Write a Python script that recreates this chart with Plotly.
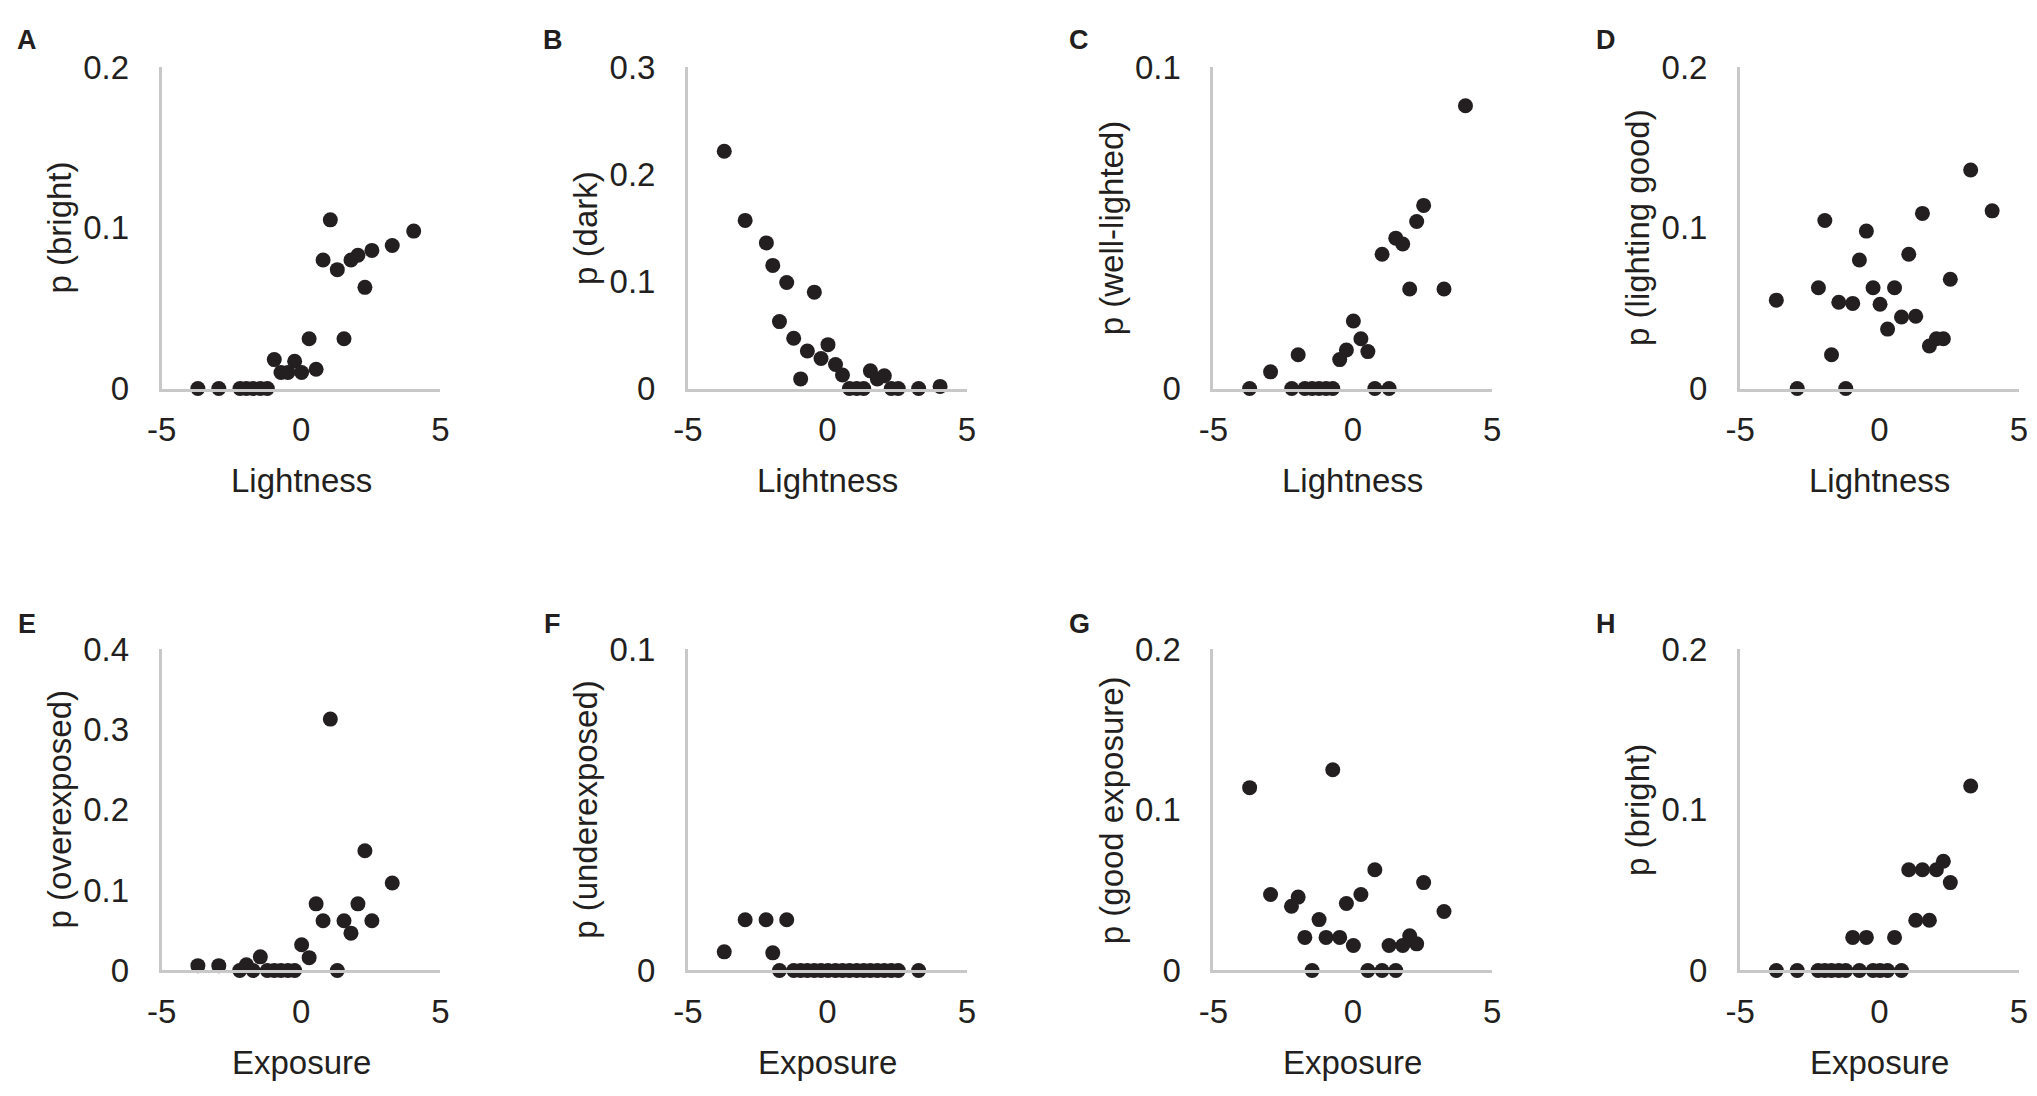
import plotly.graph_objects as go

# ---------------- data ----------------
lightness = [-3.70, -2.95, -2.19, -1.96, -1.72, -1.46, -1.21, -0.96, -0.72, -0.47, -0.23, 0.02,
             0.29, 0.54, 0.79, 1.05, 1.30, 1.54, 1.79, 2.04, 2.29, 2.54, 3.27, 4.04]
p_bright_l = [0, 0, 0, 0, 0, 0, 0, 0.018, 0.010, 0.010, 0.017, 0.010,
              0.031, 0.012, 0.080, 0.105, 0.074, 0.031, 0.080, 0.083, 0.063, 0.086, 0.089, 0.098]
p_dark = [0.2215, 0.157, 0.136, 0.115, 0.0625, 0.099, 0.047, 0.009, 0.035, 0.090, 0.028, 0.041,
          0.0225, 0.0126, 0, 0, 0, 0.0165, 0.009, 0.012, 0, 0, 0, 0.002]
p_well_lighted = [0, 0.0052, 0, 0.0105, 0, 0, 0, 0, 0, 0.009, 0.012, 0.021,
                  0.0155, 0.0115, 0, 0.0418, 0, 0.0468, 0.045, 0.031, 0.052, 0.057, 0.031, 0.088]
p_lighting_good = [0.055, 0, 0.0627, 0.1046, 0.021, 0.0537, 0, 0.053, 0.080, 0.098, 0.0627, 0.0525,
                   0.037, 0.0627, 0.0445, 0.0836, 0.045, 0.109, 0.0265, 0.031, 0.031, 0.068, 0.136, 0.1106]

exposure = [-3.70, -2.95, -2.20, -1.96, -1.72, -1.46, -1.21, -0.96, -0.72, -0.47, -0.23, 0.02,
            0.29, 0.54, 0.79, 1.05, 1.30, 1.54, 1.79, 2.04, 2.29, 2.54, 3.27]
p_overexposed = [0.006, 0.006, 0, 0.007, 0, 0.017, 0, 0, 0, 0, 0, 0.032,
                 0.016, 0.083, 0.062, 0.313, 0, 0.062, 0.0465, 0.083, 0.149, 0.062, 0.109]
p_underexposed = [0.0058, 0.0158, 0.0158, 0.0055, 0, 0.0158, 0, 0, 0, 0, 0, 0,
                  0, 0, 0, 0, 0, 0, 0, 0, 0, 0, 0]
p_good_exposure = [0.1138, 0.0473, 0.040, 0.0457, 0.0206, 0, 0.0317, 0.0206, 0.125, 0.0206, 0.0417, 0.0156,
                   0.0473, 0, 0.0627, 0, 0.0156, 0, 0.0156, 0.0216, 0.0166, 0.0547, 0.0367]
p_bright_e = [0, 0, 0, 0, 0, 0, 0, 0.0206, 0, 0.0206, 0, 0,
              0, 0.0206, 0, 0.0627, 0.0313, 0.0627, 0.0313, 0.0627, 0.068, 0.0547, 0.1148]

panel_letters = ["A", "B", "C", "D", "E", "F", "G", "H"]
x_titles = ["Lightness"] * 4 + ["Exposure"] * 4
y_titles = ["p (bright)", "p (dark)", "p (well-lighted)", "p (lighting good)",
            "p (overexposed)", "p (underexposed)", "p (good exposure)", "p (bright)"]
y_max = [0.2, 0.3, 0.1, 0.2, 0.4, 0.1, 0.2, 0.2]
x_ticks = [-5, 0, 5]
panels_x = [lightness] * 4 + [exposure] * 4
panels_y = [p_bright_l, p_dark, p_well_lighted, p_lighting_good,
            p_overexposed, p_underexposed, p_good_exposure, p_bright_e]

# ---------------- layout geometry (page pixels) ----------------
PAGE_W, PAGE_H = 2037, 1096
BODY = 8                      # default HTML body margin
W, H = PAGE_W - 2 * BODY, PAGE_H - 2 * BODY
col_left = [148.3, 681.0, 1212.7, 1745.7]
plot_w = 282.2
row_top = [50.7, 653.3]
plot_h = 332.7
letter_cx = [12, 544, 1077, 1610]
letter_cy = [23, 627]

FONT = "Liberation Sans, Arial, Helvetica, sans-serif"
TXT = "#231f20"
AXC = "#c8c8c8"
FS = 33

fig = go.Figure()
annotations = []
layout_axes = {}

for i in range(8):
    r, c = divmod(i, 4)
    n = i + 1
    xa = "xaxis" if n == 1 else f"xaxis{n}"
    ya = "yaxis" if n == 1 else f"yaxis{n}"
    xref = "x" if n == 1 else f"x{n}"
    yref = "y" if n == 1 else f"y{n}"
    left = col_left[c] - BODY
    top = row_top[r] - BODY
    x0 = left / W
    x1 = (left + plot_w) / W
    y1 = 1 - top / H
    y0 = 1 - (top + plot_h) / H

    fig.add_trace(go.Scatter(
        x=panels_x[i], y=panels_y[i], mode="markers",
        marker=dict(size=15, color=TXT, line=dict(width=0)),
        cliponaxis=False, showlegend=False, xaxis=xref, yaxis=yref,
        hoverinfo="x+y"))

    step = 0.1
    yt = [round(k * step, 1) for k in range(int(round(y_max[i] / step)) + 1)]
    layout_axes[xa] = dict(
        domain=[x0, x1], anchor=yref, range=[-5, 5], tickvals=x_ticks,
        ticktext=[str(v) for v in x_ticks],
        showgrid=False, zeroline=False, showline=True, linecolor=AXC, linewidth=3,
        ticks="", ticklabelstandoff=10,
        tickfont=dict(family=FONT, size=FS, color=TXT), fixedrange=True)
    layout_axes[ya] = dict(
        domain=[y0, y1], anchor=xref, range=[0, y_max[i]], tickvals=yt,
        ticktext=[("0" if v == 0 else f"{v:g}") for v in yt],
        showgrid=False, zeroline=False, showline=True, linecolor=AXC, linewidth=3,
        ticks="", ticklabelstandoff=23,
        tickfont=dict(family=FONT, size=FS, color=TXT), fixedrange=True)

    annotations.append(dict(
        text=x_titles[i], xref=f"{xref} domain", yref=f"{yref} domain",
        x=0.5, y=0, xanchor="center", yanchor="middle", yshift=-92, showarrow=False,
        font=dict(family=FONT, size=FS, color=TXT)))
    annotations.append(dict(
        text=y_titles[i], xref=f"{xref} domain", yref=f"{yref} domain",
        x=0, y=0.5, xanchor="center", yanchor="middle", xshift=-102, textangle=-90,
        showarrow=False, font=dict(family=FONT, size=FS, color=TXT)))
    annotations.append(dict(
        text=f"<b>{panel_letters[i]}</b>", xref="paper", yref="paper",
        x=(letter_cx[c] - BODY) / W, y=1 - (letter_cy[r] - BODY) / H,
        xanchor="center", yanchor="middle",
        showarrow=False, font=dict(family=FONT, size=27, color=TXT)))

fig.update_layout(
    width=W, height=H, margin=dict(l=0, r=0, t=0, b=0),
    paper_bgcolor="white", plot_bgcolor="white",
    annotations=annotations, **layout_axes)

fig.write_html("out.html")
